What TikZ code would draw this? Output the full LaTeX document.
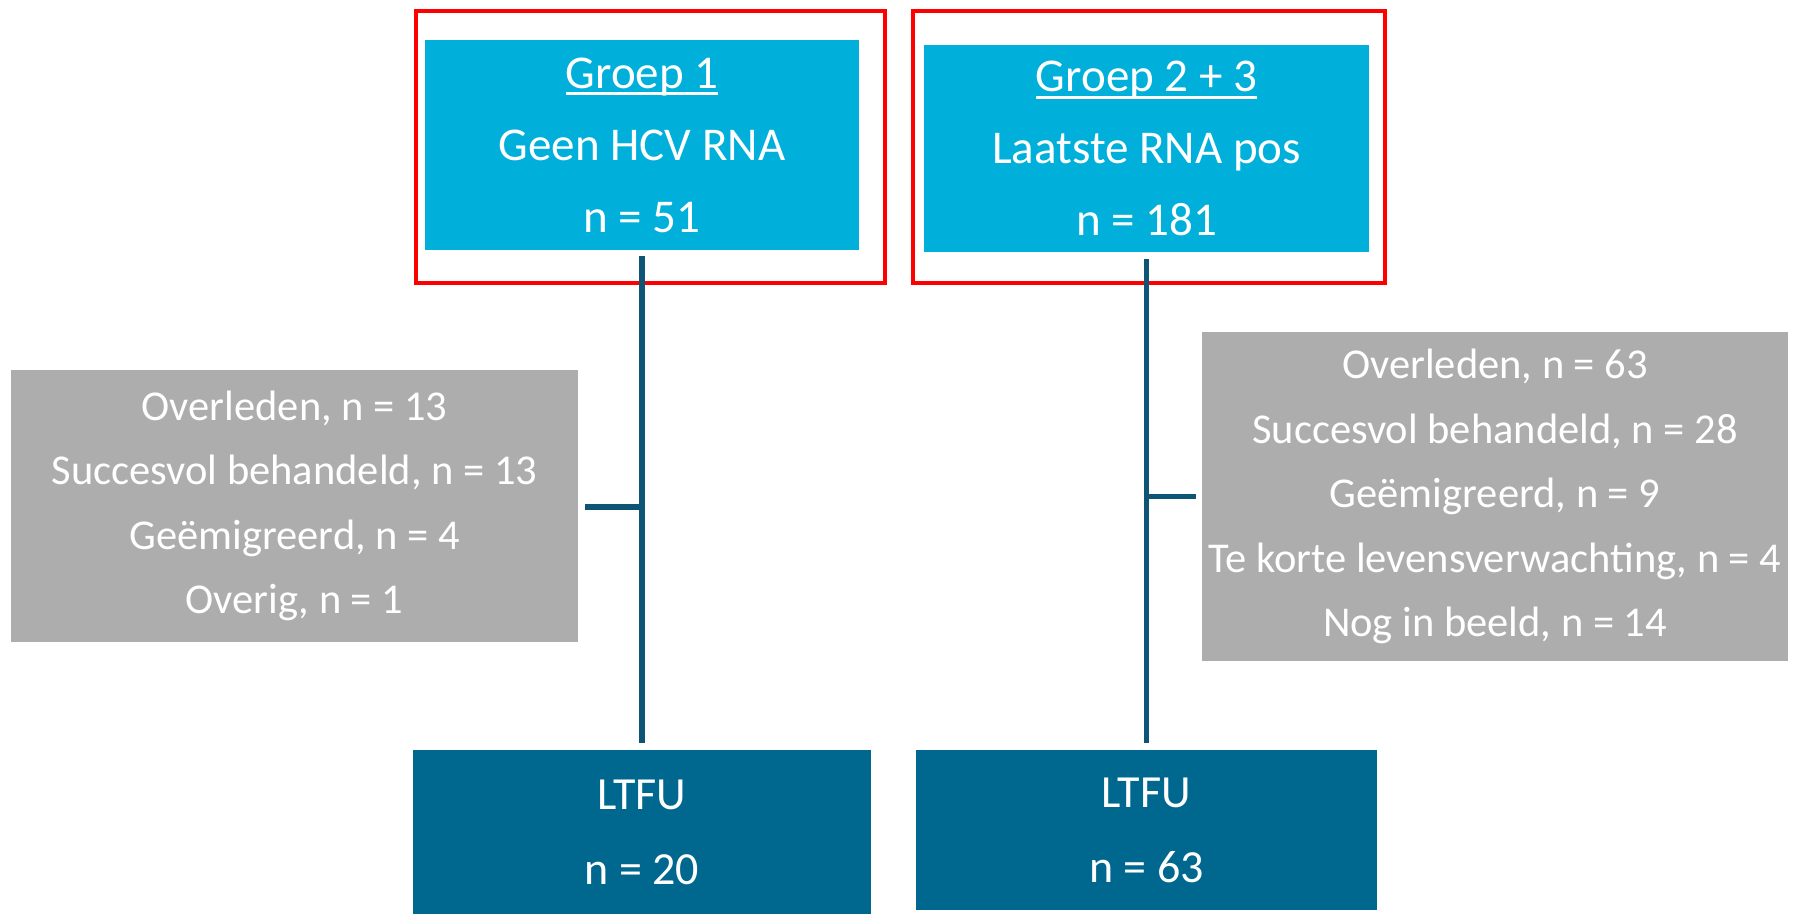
\documentclass[tikz,border=0pt]{standalone}
\usepackage{fontspec}
\setmainfont{Carlito}
\definecolor{cyanbox}{HTML}{00B0DB}
\definecolor{darkbox}{HTML}{00688F}
\definecolor{linec}{HTML}{0E5575}
\definecolor{graybox}{HTML}{ADADAD}
\definecolor{redframe}{HTML}{FF0000}
\newcommand\myul[1]{\setbox0\hbox{#1}\rlap{\rule[-7pt]{\wd0}{3pt}}\box0}
\begin{document}
\begin{tikzpicture}[x=1pt,y=-1pt,
  box/.style={rectangle,inner sep=0pt,align=center,text=white},
  topbox/.style={box,fill=cyanbox,font=\fontsize{47}{72}\selectfont},
  greybox/.style={box,fill=graybox,font=\fontsize{42.5}{64.5}\selectfont},
  ltfubox/.style={box,fill=darkbox,font=\fontsize{46}{75}\selectfont},
  frame/.style={rectangle,draw=redframe,line width=4.7pt,inner sep=0pt},
  conn/.style={draw=linec,line width=5.5pt}]
\useasboundingbox (0,0) rectangle (1795,914);
% red frames
\node[frame,minimum width=469pt,minimum height=272pt] (f1) at (650.5,147) {};
\node[frame,minimum width=472pt,minimum height=272pt] (f2) at (1149,147) {};
% top boxes
\node[topbox,minimum width=434pt,minimum height=210pt] (c1) at (642,145)
  {\myul{Groep 1}\\Geen HCV RNA\\n = 51};
\node[topbox,minimum width=445pt,minimum height=207pt] (c2) at (1146.5,148.5)
  {\myul{Groep 2 + 3}\\Laatste RNA pos\\n = 181};
% grey boxes
\node[greybox,minimum width=567pt,minimum height=272pt] (g1) at (294.5,506)
  {Overleden, n = 13\\Succesvol behandeld, n = 13\\Geëmigreerd, n = 4\\Overig, n = 1};
\node[greybox,minimum width=586pt,minimum height=329pt] (g2) at (1495,496.5)
  {Overleden, n = 63\\Succesvol behandeld, n = 28\\Geëmigreerd, n = 9\\Te korte levensverwachting, n = 4\\Nog in beeld, n = 14};
% LTFU boxes
\node[ltfubox,minimum width=458pt,minimum height=164pt] (d1) at (642,832)
  {LTFU\\n = 20};
\node[ltfubox,minimum width=461pt,minimum height=160pt] (d2) at (1146.5,830)
  {LTFU\\n = 63};
% connectors
\draw[conn] ([yshift=-6pt]c1.south) -- ([yshift=7pt]d1.north);
\draw[conn] ([yshift=-7pt]c2.south) -- ([yshift=7pt]d2.north -| c2.south);
\draw[conn] ([xshift=7pt,yshift=-1pt]g1.east) -- ([yshift=-1pt]g1.east -| c1.south);
\draw[conn] ([xshift=-6pt]g2.west) -- (g2.west -| c2.south);
\end{tikzpicture}
\end{document}
